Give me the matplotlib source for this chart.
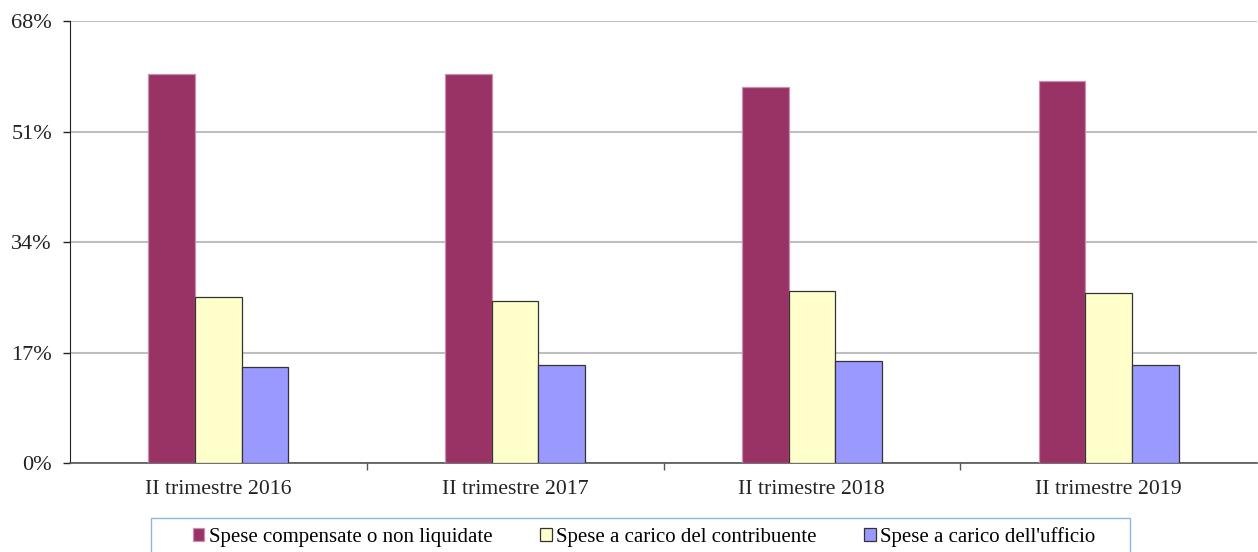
import numpy as np
import matplotlib
matplotlib.use("Agg")
import matplotlib.pyplot as plt
from matplotlib.patches import Rectangle

# ── data ─────────────────────────────────────────────────────────────────────
categories = ["II trimestre 2016", "II trimestre 2017", "II trimestre 2018", "II trimestre 2019"]
series_names = ["Spese compensate o non liquidate",
                "Spese a carico del contribuente",
                "Spese a carico dell'ufficio"]
compensate = [59.8, 59.9, 57.9, 58.85]
contribuente = [25.6, 25.0, 26.5, 26.2]
ufficio = [14.75, 15.05, 15.7, 15.1]
yticks = [0, 17, 34, 51, 68]

colors = ["#993366", "#FFFFCC", "#9999FF"]
edges = ["#C890B0", "#333333", "#333333"]

plt.rcParams["font.family"] = ["Liberation Serif", "DejaVu Serif"]

W, H = 1258, 552
fig = plt.figure(figsize=(W / 100, H / 100), dpi=100)
ax = fig.add_axes([70 / W, 1 - 463.2 / H, (1257 - 70) / W, (463.2 - 21) / H])

x = np.arange(len(categories))
bw = 0.157
for i, (vals, c, ec) in enumerate(zip([compensate, contribuente, ufficio], colors, edges)):
    ax.bar(x + (i - 1) * bw, vals, bw, color=c, edgecolor=ec, linewidth=0.9,
           label=series_names[i], zorder=3)

ax.set_xlim(-0.5, len(categories) - 0.5)
ax.set_ylim(0, 68)
ax.set_yticks(yticks)
ax.set_yticklabels([f"{v}%" for v in yticks], fontsize=16, color="#222222")
ax.yaxis.grid(True, color="#BFBFBF", linewidth=1.5, zorder=0)
ax.tick_params(axis="y", length=5, width=1, pad=8, color="#222222")

# ticks at category boundaries, labels at the centres
ax.set_xticks(np.arange(0.5, len(categories) - 0.5, 1))
ax.set_xticklabels([])
ax.tick_params(axis="x", which="major", length=5, width=1, color="#555555")
ax.set_xticks(x, minor=True)
ax.set_xticklabels(categories, minor=True, fontsize=15.7, color="#222222")
ax.tick_params(axis="x", which="minor", length=0, pad=12)

for s in ["top", "right"]:
    ax.spines[s].set_visible(False)
ax.spines["left"].set_color("#222222")
ax.spines["bottom"].set_color("#555555")
ax.spines["bottom"].set_linewidth(1.2)

# legend box (runs off the bottom edge as in the reference)
fig.patches.append(Rectangle((150.5 / W, -0.05), (1130 - 150.5) / W, 0.05 + 1 - 517.5 / H,
                             transform=fig.transFigure, fill=False,
                             edgecolor="#8DB4E2", linewidth=1.0))
handles, labels = ax.get_legend_handles_labels()
fig.legend(handles, labels, loc="center", bbox_to_anchor=(644 / W, 1 - 537 / H),
           ncol=3, frameon=False, fontsize=15, handlelength=0.55, handleheight=0.55,
           handletextpad=0.2, columnspacing=2.3)

fig.savefig("out.png", dpi=100)
